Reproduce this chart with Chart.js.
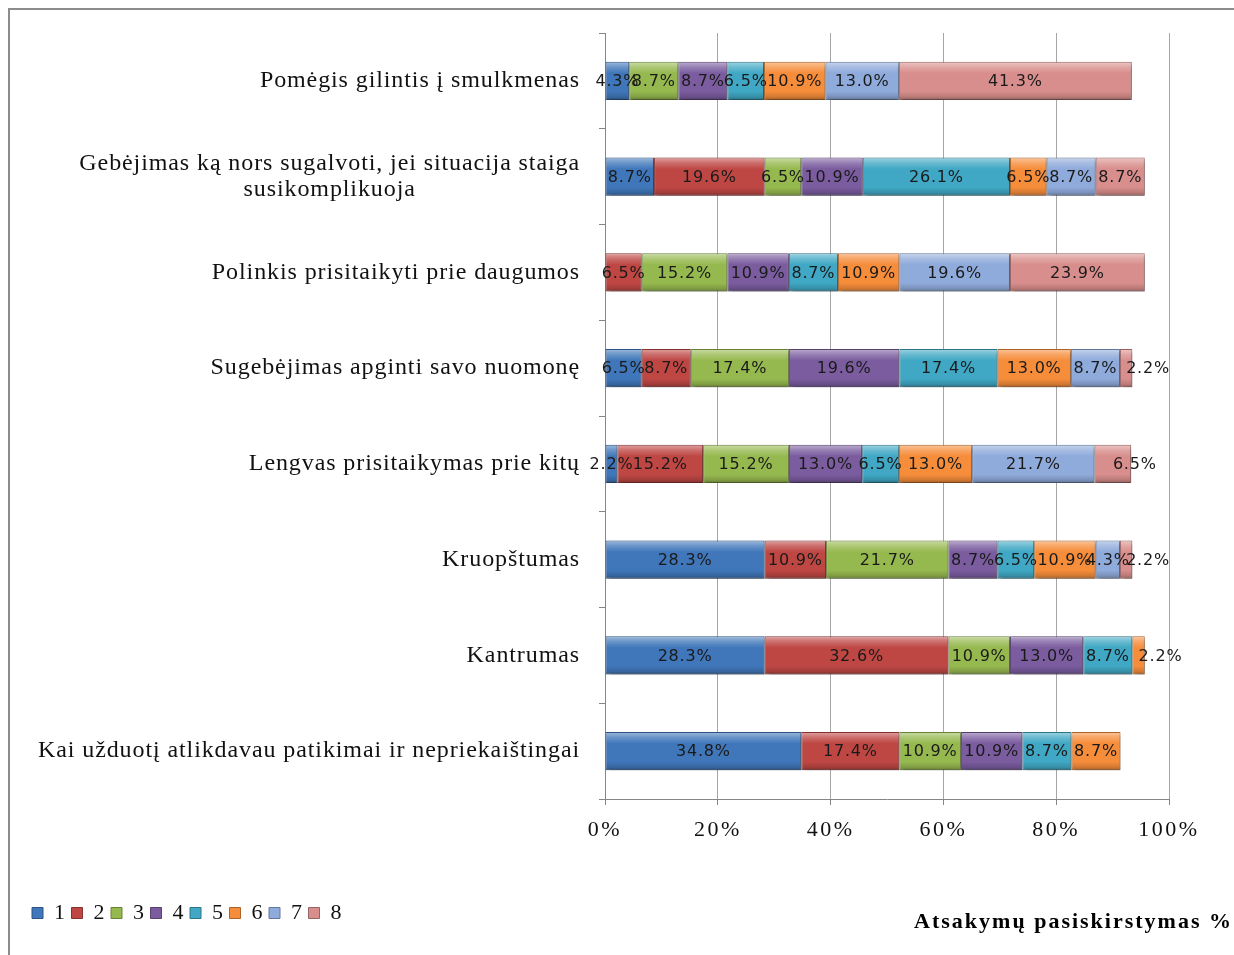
<!DOCTYPE html>
<html>
<head>
<meta charset="utf-8">
<script src="https://cdn.jsdelivr.net/npm/chart.js@4.4.1/dist/chart.umd.min.js"></script>
<style>
  html, body { margin: 0; padding: 0; background: #fff; overflow: hidden; }
  #frame { position: absolute; left: 8px; top: 8px; width: 1300px; height: 1000px;
           border-top: 2px solid #8c8c8c; border-left: 2px solid #8c8c8c; }
  #wrap { position: absolute; left: 0; top: 0; width: 1234px; height: 955px; }
</style>
</head>
<body>
<div id="frame"></div>
<div id="wrap"><canvas id="Skills_Chart"></canvas></div>
<script>
const categories = [
    'Pomėgis gilintis į smulkmenas',
    ['Gebėjimas ką nors sugalvoti, jei situacija staiga', 'susikomplikuoja'],
    'Polinkis prisitaikyti prie daugumos',
    'Sugebėjimas apginti savo nuomonę',
    'Lengvas prisitaikymas prie kitų',
    'Kruopštumas',
    'Kantrumas',
    'Kai užduotį atlikdavau patikimai ir nepriekaištingai'
]
const series_names = ['1', '2', '3', '4', '5', '6', '7', '8']

// answer shares in %, one list per answer option, rows top to bottom
const s1 = [4.3, 8.7, 0, 6.5, 2.2, 28.3, 28.3, 34.8]
const s2 = [0, 19.6, 6.5, 8.7, 15.2, 10.9, 32.6, 17.4]
const s3 = [8.7, 6.5, 15.2, 17.4, 15.2, 21.7, 10.9, 10.9]
const s4 = [8.7, 10.9, 10.9, 19.6, 13.0, 8.7, 13.0, 10.9]
const s5 = [6.5, 26.1, 8.7, 17.4, 6.5, 6.5, 8.7, 8.7]
const s6 = [10.9, 6.5, 10.9, 13.0, 13.0, 10.9, 2.2, 8.7]
const s7 = [13.0, 8.7, 19.6, 8.7, 21.7, 4.3, 0, 0]
const s8 = [41.3, 8.7, 23.9, 2.2, 6.5, 2.2, 0, 0]

const x_ticks = [0, 20, 40, 60, 80, 100]
const axis_title = 'Atsakymų pasiskirstymas %'

const series_values = [s1, s2, s3, s4, s5, s6, s7, s8]
const series_colors = ['#4077BA', '#BE4744', '#96B94F', '#7A5C9F', '#40A8C4', '#F68D3B', '#8FABDB', '#D88E8C']

function mix(hex, target, amt) {
    const n = parseInt(hex.slice(1), 16)
    const r = (n >> 16) & 255, g = (n >> 8) & 255, b = n & 255
    const t = target === 'white' ? 255 : 0
    const f = c => Math.round(c + (t - c) * amt)
    return 'rgb(' + f(r) + ',' + f(g) + ',' + f(b) + ')'
}

// bevel look: vertical gradient across each bar
function bevel(ctx) {
    const base = series_colors[ctx.datasetIndex]
    const chart = ctx.chart
    const y = chart.scales && chart.scales.y
    if (ctx.type !== 'data' || !chart.chartArea || !y) return base
    const yc = y.getPixelForValue(ctx.dataIndex)
    const half = (chart.chartArea.bottom - chart.chartArea.top) / categories.length * 0.2
    const g = chart.ctx.createLinearGradient(0, yc - half, 0, yc + half)
    g.addColorStop(0, mix(base, 'white', 0.5))
    g.addColorStop(0.14, mix(base, 'white', 0.22))
    g.addColorStop(0.3, base)
    g.addColorStop(0.78, base)
    g.addColorStop(0.92, mix(base, 'black', 0.15))
    g.addColorStop(1, mix(base, 'black', 0.35))
    return g
}

const datasets = series_values.map((vals, i) => ({
    label: series_names[i],
    data: vals,
    backgroundColor: bevel,
    borderColor: mix(series_colors[i], 'black', 0.3),
    borderWidth: ctx => (ctx.raw ? 1 : 0),
    borderSkipped: false,
    barPercentage: 0.4,
    categoryPercentage: 1.0
}))

const shadow_plugin = {
    id: 'barShadow',
    beforeDatasetsDraw(chart) {
        const c = chart.ctx
        c.save()
        c.shadowColor = 'rgba(0,0,0,0.35)'
        c.shadowBlur = 4
        c.shadowOffsetX = 2
        c.shadowOffsetY = 3
    },
    afterDatasetsDraw(chart) {
        chart.ctx.restore()
    }
}

const value_labels = {
    id: 'valueLabels',
    afterDatasetsDraw(chart) {
        const c = chart.ctx
        c.save()
        c.font = '16px "DejaVu Sans"'
        c.letterSpacing = '0.8px'
        c.fillStyle = '#1a1a1a'
        c.textBaseline = 'middle'
        chart.data.datasets.forEach((ds, d) => {
            const meta = chart.getDatasetMeta(d)
            meta.data.forEach((bar, i) => {
                const v = ds.data[i]
                if (!v) return
                const txt = v.toFixed(1) + '%'
                const mid = (bar.x + bar.base) / 2
                const w = Math.abs(bar.x - bar.base)
                let last = true
                for (let k = d + 1; k < series_values.length; k++) if (series_values[k][i]) last = false
                c.textAlign = (last && w < c.measureText(txt).width) ? 'left' : 'center'
                c.fillText(txt, mid, bar.y + 1)
            })
        })
        c.restore()
    }
}

// category names: block right-aligned next to the axis, lines centred inside the block
const category_labels = {
    id: 'categoryLabels',
    afterDraw(chart) {
        const c = chart.ctx
        const y = chart.scales.y
        const right = chart.chartArea.left - 25
        c.save()
        c.font = '24px "Liberation Serif"'
        c.letterSpacing = '0.9px'
        c.fillStyle = '#111'
        c.textBaseline = 'middle'
        c.textAlign = 'center'
        categories.forEach((lab, i) => {
            const lines = Array.isArray(lab) ? lab : [lab]
            const bw = Math.max(...lines.map(l => c.measureText(l).width))
            const cx = right - bw / 2
            const yc = y.getPixelForTick(i)
            const lh = 26
            lines.forEach((l, k) => {
                c.fillText(l, cx, yc + (k - (lines.length - 1) / 2) * lh)
            })
        })
        // axis title beside the legend
        const lg = chart.legend
        c.font = 'bold 22px "Liberation Serif"'
        c.letterSpacing = '2px'
        c.textAlign = 'right'
        c.fillStyle = '#000'
        c.fillText(axis_title, chart.width - 1, lg.top + 24)
        c.restore()
    }
}

const spacing_plugin = {
    id: 'letterSpacing',
    beforeDraw(chart) { chart.ctx.letterSpacing = '2.5px' }
}

let skills_document = document.getElementById('Skills_Chart').getContext('2d')

let skills_chart = new Chart(skills_document, {
    type: 'bar',
    data: { labels: categories, datasets: datasets },
    options: {
        indexAxis: 'y',
        responsive: true,
        maintainAspectRatio: false,
        animation: false,
        layout: { padding: { left: 28, right: 65, top: 33, bottom: 21 } },
        scales: {
            x: {
                stacked: true,
                min: 0,
                max: 100,
                afterBuildTicks: scale => { scale.ticks = x_ticks.map(v => ({ value: v })) },
                afterFit: scale => { scale.height = 99 },
                ticks: {
                    callback: v => v + '%',
                    font: { family: '"Liberation Serif"', size: 22 },
                    color: '#111',
                    padding: 12,
                    maxRotation: 0
                },
                grid: { color: '#a6a6a6', tickLength: 6, tickColor: '#868686' },
                border: { color: '#868686' }
            },
            y: {
                stacked: true,
                afterFit: scale => { scale.width = 577 },
                ticks: { display: false },
                grid: { offset: true, drawOnChartArea: false, tickLength: 6, color: '#868686' },
                border: { color: '#868686' }
            }
        },
        plugins: {
            legend: {
                position: 'bottom',
                align: 'start',
                labels: {
                    boxWidth: 11,
                    boxHeight: 11,
                    padding: 4,
                    color: '#111',
                    font: { family: '"Liberation Serif"', size: 22 },
                    generateLabels: chart => chart.data.datasets.map((ds, i) => ({
                        text: ds.label,
                        fillStyle: series_colors[i],
                        strokeStyle: mix(series_colors[i], 'black', 0.3),
                        lineWidth: 1,
                        fontColor: '#111',
                        hidden: false,
                        datasetIndex: i
                    }))
                }
            },
            tooltip: { enabled: false }
        }
    },
    plugins: [spacing_plugin, shadow_plugin, value_labels, category_labels]
})
</script>
</body>
</html>
